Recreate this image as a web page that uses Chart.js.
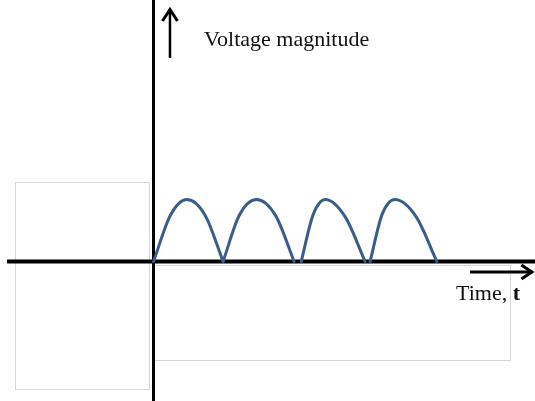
<!DOCTYPE html>
<html>
<head>
<meta charset="utf-8">
<script src="https://cdn.jsdelivr.net/npm/chart.js@4.4.0/dist/chart.umd.min.js"></script>
<style>
  html, body { margin: 0; padding: 0; background: #ffffff; }
  #wrap { width: 535px; height: 401px; }
</style>
</head>
<body>
<div id="wrap"><canvas id="c" width="535" height="401"></canvas></div>
<script>
// ---- Data (time in half-cycles, voltage normalised to peak) ----
const arch1T = [0.00, 0.24, 0.47, 0.73, 0.98];
const arch1V = [0.00, 0.75, 1.00, 0.74, 0.00];
const arch2T = [0.98, 1.21, 1.45, 1.72, 1.98];
const arch2V = [0.00, 0.75, 1.00, 0.74, 0.00];
const arch3T = [2.08, 2.25, 2.42, 2.70, 2.98];
const arch3V = [0.00, 0.76, 1.00, 0.72, 0.00];
const arch4T = [3.05, 3.22, 3.40, 3.70, 3.99];
const arch4V = [0.00, 0.76, 1.00, 0.72, 0.00];

// axis ranges
const xMin = -2.162, xMax = 5.373;
const yMin = -2.250, yMax = 4.218;
const hAxisStart = -2.063;

// labels
const yTitle = "Voltage magnitude";
const xTitle = "Time, ";
const xTitleBold = "t";

// background frames [t0, t1, v0, v1]
const frameBoxes = [
  [-1.951, -0.063, 1.282, -2.056],
  [0.00, 5.021, -0.056, -1.589]
];

// arrows
const upArrow = { t: 0.232, from: 3.284, to: 4.089 };
const rightArrow = { v: -0.169, from: 4.458, to: 5.35 };
// label anchors
const yTitlePos = { t: 0.711, v: 3.475 };
const xTitlePos = { t: 4.261, v: -0.621 };

function pts(ts, vs) { return ts.map((t, i) => ({ x: t, y: vs[i] })); }

const curveColor = '#3A5D8B';
const archStyle = {
  showLine: true, borderColor: curveColor, borderWidth: 3, pointRadius: 0,
  cubicInterpolationMode: 'monotone', fill: false, order: 1,
  borderCapStyle: 'round', borderJoinStyle: 'round'
};

const decor = {
  id: 'decor',
  beforeDatasetsDraw(chart) {
    const { ctx, scales: { x, y } } = chart;
    ctx.save();
    ctx.strokeStyle = '#d6d6d6';
    ctx.lineWidth = 1;
    for (const b of frameBoxes) {
      const x0 = Math.round(x.getPixelForValue(b[0])) + 0.5;
      const x1 = Math.round(x.getPixelForValue(b[1])) + 0.5;
      const y0 = Math.round(y.getPixelForValue(b[2])) + 0.5;
      const y1 = Math.round(y.getPixelForValue(b[3])) + 0.5;
      ctx.strokeRect(x0, y0, x1 - x0, y1 - y0);
    }
    ctx.restore();
  },
  afterDatasetsDraw(chart) {
    const { ctx, scales: { x, y } } = chart;
    ctx.save();
    ctx.strokeStyle = '#000';
    ctx.lineCap = 'butt';
    // up arrow
    const ux = x.getPixelForValue(upArrow.t);
    const uy0 = y.getPixelForValue(upArrow.from);
    const uy1 = y.getPixelForValue(upArrow.to);
    ctx.lineWidth = 2.5;
    ctx.beginPath(); ctx.moveTo(ux, uy0); ctx.lineTo(ux, uy1 + 1); ctx.stroke();
    ctx.lineWidth = 3;
    ctx.beginPath();
    ctx.moveTo(ux - 7.5, uy1 + 13); ctx.lineTo(ux, uy1 + 1.5); ctx.lineTo(ux + 7.5, uy1 + 13);
    ctx.stroke();
    // right arrow
    const ry = y.getPixelForValue(rightArrow.v);
    const rx0 = x.getPixelForValue(rightArrow.from);
    const rx1 = x.getPixelForValue(rightArrow.to);
    ctx.lineWidth = 3;
    ctx.beginPath(); ctx.moveTo(rx0, ry); ctx.lineTo(rx1 - 1, ry); ctx.stroke();
    ctx.beginPath();
    ctx.moveTo(rx1 - 12, ry - 7); ctx.lineTo(rx1 - 1.5, ry); ctx.lineTo(rx1 - 12, ry + 7);
    ctx.stroke();
    // texts
    ctx.fillStyle = '#111';
    ctx.textBaseline = 'alphabetic';
    ctx.textAlign = 'left';
    ctx.font = '22px "Liberation Serif", "DejaVu Serif", serif';
    ctx.fillText(yTitle, x.getPixelForValue(yTitlePos.t), y.getPixelForValue(yTitlePos.v));
    const tx = x.getPixelForValue(xTitlePos.t), ty = y.getPixelForValue(xTitlePos.v);
    ctx.fillText(xTitle, tx, ty);
    const w = ctx.measureText(xTitle).width;
    ctx.font = 'bold 22px "Liberation Serif", "DejaVu Serif", serif';
    ctx.fillText(xTitleBold, tx + w, ty);
    ctx.restore();
  }
};

new Chart(document.getElementById('c'), {
  type: 'scatter',
  data: {
    datasets: [
      Object.assign({ data: pts(arch1T, arch1V) }, archStyle),
      Object.assign({ data: pts(arch2T, arch2V) }, archStyle),
      Object.assign({ data: pts(arch3T, arch3V) }, archStyle),
      Object.assign({ data: pts(arch4T, arch4V) }, archStyle),
      { data: [{ x: hAxisStart, y: 0 }, { x: xMax, y: 0 }], showLine: true,
        borderColor: '#000', borderWidth: 4, pointRadius: 0, order: 2 },
      { data: [{ x: 0, y: yMin }, { x: 0, y: yMax }], showLine: true,
        borderColor: '#000', borderWidth: 3, pointRadius: 0, order: 2 }
    ]
  },
  options: {
    responsive: false,
    animation: false,
    devicePixelRatio: 1,
    layout: { padding: 0 },
    plugins: { legend: { display: false }, tooltip: { enabled: false }, title: { display: false } },
    scales: {
      x: { type: 'linear', min: xMin, max: xMax, display: false },
      y: { type: 'linear', min: yMin, max: yMax, display: false }
    },
    events: []
  },
  plugins: [decor]
});
</script>
</body>
</html>
